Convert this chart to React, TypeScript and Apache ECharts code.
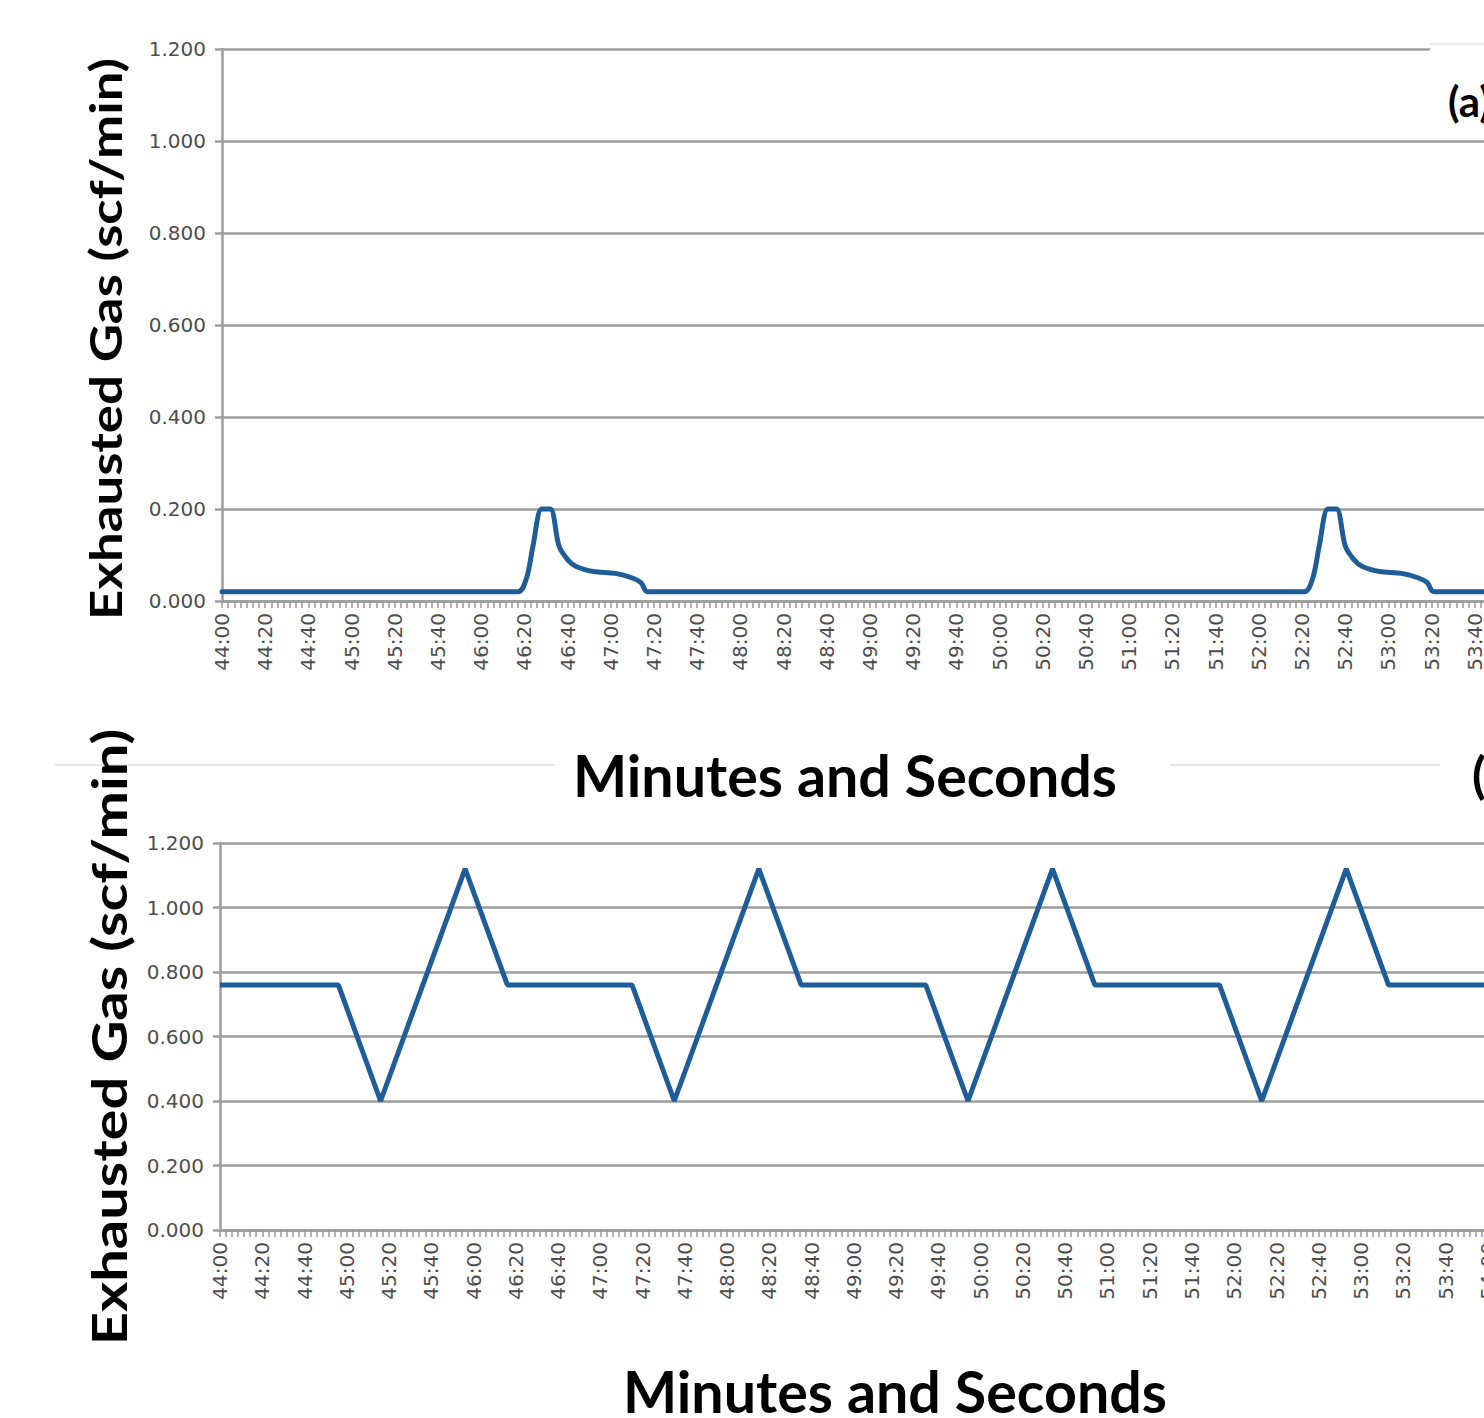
import React, { useEffect, useRef } from "react";
import * as echarts from "echarts";

// ---- data ----
const topTimes = [
  "44:00", "46:17", "46:21", "46:24", "46:28", "46:32", "46:36", "46:40", "46:44", "46:52",
  "47:02", "47:10", "47:14", "47:17",
  "52:21", "52:25", "52:28", "52:32", "52:36", "52:40", "52:44", "52:48", "52:56",
  "53:06", "53:14", "53:18", "53:21", "55:00",
];
const topValues = [
  0.02, 0.02, 0.05, 0.12, 0.2, 0.2, 0.12, 0.09, 0.075, 0.064,
  0.06, 0.05, 0.04, 0.02,
  0.02, 0.05, 0.12, 0.2, 0.2, 0.12, 0.09, 0.075, 0.064,
  0.06, 0.05, 0.04, 0.02, 0.02,
];

const bottomTimes = [
  "44:00", "44:56", "45:16", "45:56", "46:16",
  "47:15", "47:35", "48:15", "48:35",
  "49:34", "49:54", "50:34", "50:54",
  "51:53", "52:13", "52:53", "53:13", "55:00",
];
const bottomValues = [
  0.76, 0.76, 0.4, 1.12, 0.76,
  0.76, 0.4, 1.12, 0.76,
  0.76, 0.4, 1.12, 0.76,
  0.76, 0.4, 1.12, 0.76, 0.76,
];

const xStart = "44:00";
const xEnd = "55:00";
const xStepSeconds = 20;
const yMin = 0;
const yMax = 1.2;
const yStep = 0.2;

const yTitle = "Exhausted Gas (scf/min)";
const xTitle = "Minutes and Seconds";
const panelLabelA = "(a)";
const panelLabelB = "(b)";

// ---- helpers ----
const toSec = (t: string) => {
  const [m, s] = t.split(":").map(Number);
  return m * 60 + s;
};
const fmt = (v: number) => {
  const m = Math.floor(v / 60);
  const s = Math.round(v - m * 60);
  return `${m}:${s < 10 ? "0" + s : s}`;
};
const measure = (text: string, font: string) => {
  const c = document.createElement("canvas").getContext("2d")!;
  c.font = font;
  return c.measureText(text).width;
};

const LINE = "#1f5d99";
const GRID = "#9c9c9c";
const LABEL = "#4d4d4d";
const TITLE_FONT = "Lato";

function xAxisFor(gridIndex: number) {
  return {
    type: "value",
    gridIndex,
    min: toSec(xStart),
    max: toSec(xEnd),
    interval: xStepSeconds,
    axisLine: { show: true, onZero: false, lineStyle: { color: GRID, width: 2.5 } },
    axisTick: { show: true, length: 7, lineStyle: { color: "#999", width: 1.5 } },
    minorTick: { show: true, splitNumber: 7, length: 7, lineStyle: { color: "#999", width: 1.5 } },
    splitLine: { show: false },
    axisLabel: {
      rotate: 90,
      margin: 12,
      formatter: (v: number) => fmt(v),
      color: LABEL,
      fontFamily: "DejaVu Sans",
      fontSize: 20,
      showMaxLabel: true,
    },
  };
}

function yAxisFor(gridIndex: number) {
  return {
    type: "value",
    gridIndex,
    min: yMin,
    max: yMax,
    interval: yStep,
    axisLine: { show: true, lineStyle: { color: GRID, width: 2.5 } },
    axisTick: { show: true, length: 7, lineStyle: { color: GRID, width: 2.5 } },
    splitLine: { show: true, lineStyle: { color: GRID, width: 2.5 } },
    axisLabel: {
      margin: 16,
      formatter: (v: number) => v.toFixed(3),
      color: LABEL,
      fontFamily: "DejaVu Sans",
      fontSize: 20,
    },
  };
}

function scaledText(
  text: string,
  size: number,
  targetLen: number,
  x: number,
  y: number,
  rotate: boolean
) {
  const font = `bold ${size}px ${TITLE_FONT}`;
  const w = measure(text, font) || targetLen;
  return {
    type: "text",
    x,
    y,
    rotation: rotate ? Math.PI / 2 : 0,
    scaleX: targetLen / w,
    style: {
      text,
      font,
      fill: "#000",
      align: "center",
      verticalAlign: "middle",
    },
    z: 100,
  };
}

export default function App() {
  const ref = useRef<HTMLDivElement>(null);
  useEffect(() => {
    if (!ref.current) return;
    const chart = echarts.init(ref.current, undefined, { renderer: "svg" });
    const secPerTop = 2.16;
    const secPerBottom = 2.113;
    const span = toSec(xEnd) - toSec(xStart);
    const option: any = {
      animation: false,
      backgroundColor: "#ffffff",
      grid: [
        { left: 222, top: 49, height: 552, width: span * secPerTop },
        { left: 220, top: 843, height: 387, width: span * secPerBottom },
      ],
      xAxis: [xAxisFor(0), xAxisFor(1)],
      yAxis: [yAxisFor(0), yAxisFor(1)],
      series: [
        {
          type: "line",
          xAxisIndex: 0,
          yAxisIndex: 0,
          data: topTimes.map((t, i) => [toSec(t), topValues[i]]),
          showSymbol: false,
          smooth: 0.3,
          lineStyle: { color: LINE, width: 5, join: "round", cap: "round" },
          z: 5,
        },
        {
          type: "line",
          xAxisIndex: 1,
          yAxisIndex: 1,
          data: bottomTimes.map((t, i) => [toSec(t), bottomValues[i]]),
          showSymbol: false,
          lineStyle: { color: LINE, width: 5 },
          z: 5,
        },
      ],
      graphic: [
        // faint frame line of the lower panel
        {
          type: "line",
          shape: { x1: 55, y1: 765, x2: 555, y2: 765 },
          style: { stroke: "#dddddd", lineWidth: 1.5 },
          z: 50,
        },
        {
          type: "line",
          shape: { x1: 1170, y1: 765, x2: 1440, y2: 765 },
          style: { stroke: "#dddddd", lineWidth: 1.5 },
          z: 50,
        },
        // panel label box (a)
        {
          type: "rect",
          shape: { x: 1430, y: 44, width: 300, height: 86 },
          style: { fill: "#ffffff" },
          z: 60,
        },
        {
          type: "line",
          shape: { x1: 1430, y1: 44, x2: 1484, y2: 44 },
          style: { stroke: "#e2e2e2", lineWidth: 1.5 },
          z: 61,
        },
        {
          type: "text",
          x: 1448,
          y: 101,
          style: {
            text: panelLabelA,
            font: `bold 42px ${TITLE_FONT}`,
            fill: "#000",
            align: "left",
            verticalAlign: "middle",
          },
          z: 100,
        },
        {
          type: "text",
          x: 1472,
          y: 774,
          style: {
            text: panelLabelB,
            font: `bold 50px ${TITLE_FONT}`,
            fill: "#000",
            align: "left",
            verticalAlign: "middle",
          },
          z: 100,
        },
        scaledText(yTitle, 44, 562, 105, 339, true),
        scaledText(yTitle, 48, 617, 108, 1037, true),
        scaledText(xTitle, 58, 544, 845, 774, false),
        scaledText(xTitle, 58, 544, 895, 1390, false),
      ],
    };
    chart.setOption(option);
    return () => chart.dispose();
  }, []);
  return (
    <div
      style={{
        position: "absolute",
        left: 0,
        top: 0,
        width: 1484,
        height: 1418,
        overflow: "hidden",
        background: "#fff",
      }}
    >
      <div ref={ref} style={{ width: 1720, height: 1418 }} />
    </div>
  );
}
